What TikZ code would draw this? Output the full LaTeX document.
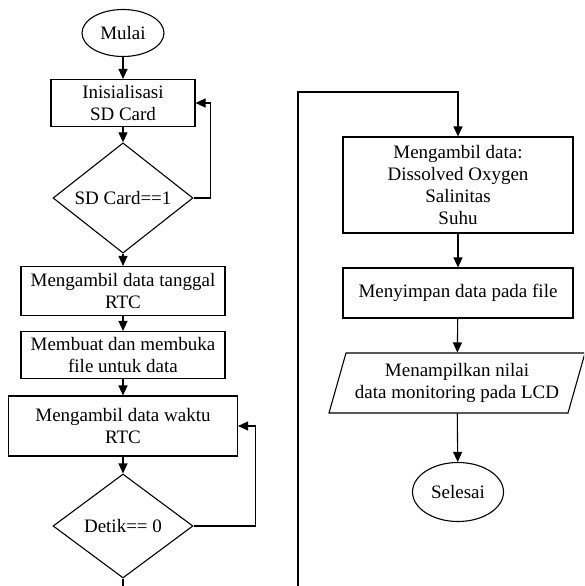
\documentclass[tikz,border=0pt]{standalone}
\usepackage{fontspec}
\setmainfont{Liberation Serif}
\usetikzlibrary{shapes.geometric,arrows.meta}

\tikzset{
    teks/.style={font=\fontsize{19}{22}\selectfont, align=center, inner sep=0pt},
    proses/.style={teks, draw, rectangle},
    terminal/.style={teks, draw, ellipse},
    keputusan/.style={teks, draw, diamond},
    keluaran/.style={teks, draw, trapezium, trapezium left angle=66.6,
        trapezium right angle=113.4, trapezium stretches body},
    panah/.style={-{Triangle[length=10pt,width=9pt]}},
}

\begin{document}
\begin{tikzpicture}[x=1pt, y=-1pt, line width=1.1pt]
        \useasboundingbox (0,0) rectangle (584,586);
        \clip (0,0) rectangle (584,586);

        \node[terminal, minimum width=82pt, minimum height=47pt] (mulai) at (123,33) {Mulai};
        \node[proses, minimum width=144pt, minimum height=47pt] (init) at (123,103) {Inisialisasi\\SD Card};
        \node[keputusan, minimum width=140pt, minimum height=103pt] (cekSD) at (123,198) {SD Card==1};
        \node[proses, minimum width=204pt, minimum height=49pt] (tanggal) at (123,291) {Mengambil data tanggal\\RTC};
        \node[proses, minimum width=204pt, minimum height=47pt] (buatFile) at (123,355) {Membuat dan membuka\\file untuk data};
        \node[proses, minimum width=229pt, minimum height=60pt] (waktu) at (123,426) {Mengambil data waktu\\RTC};
        \node[keputusan, minimum width=140pt, minimum height=104pt] (cekDetik) at (123,526) {Detik== 0};

        \node[proses, minimum width=230pt, minimum height=96pt] (sensor) at (458,185) {Mengambil data:\\Dissolved Oxygen\\Salinitas\\Suhu};
        \node[proses, minimum width=230pt, minimum height=50pt] (simpan) at (458,293) {Menyimpan data pada file};
        \node[keluaran, minimum width=256pt, minimum height=60pt] (lcd) at (457,383) {Menampilkan nilai\\data monitoring pada LCD};
        \node[terminal, minimum width=91pt, minimum height=59pt] (selesai) at (458,492) {Selesai};

        \coordinate (bawah) at (298,600);
        \coordinate (atas) at (298,92);

        \draw[panah] (mulai) -- (init);
        \draw[panah] (init) -- (cekSD);
        \draw[panah] (cekSD.east) -- ++(17,0) |- (init.east);
        \draw[panah] (cekSD) -- (tanggal);
        \draw[panah] (tanggal) -- (buatFile);
        \draw[panah] (buatFile) -- (waktu);
        \draw[panah] (waktu) -- (cekDetik);
        \draw[panah] (cekDetik.east) -- ++(62,0) |- (waktu.east);
        \draw[panah] (cekDetik.south) |- (bawah) -- (atas) -| (sensor.north);
        \draw[panah] (sensor) -- (simpan);
        \draw[panah] (simpan) -- (lcd);
        \draw[panah] (lcd) -- (selesai);
    \end{tikzpicture}
\end{document}
